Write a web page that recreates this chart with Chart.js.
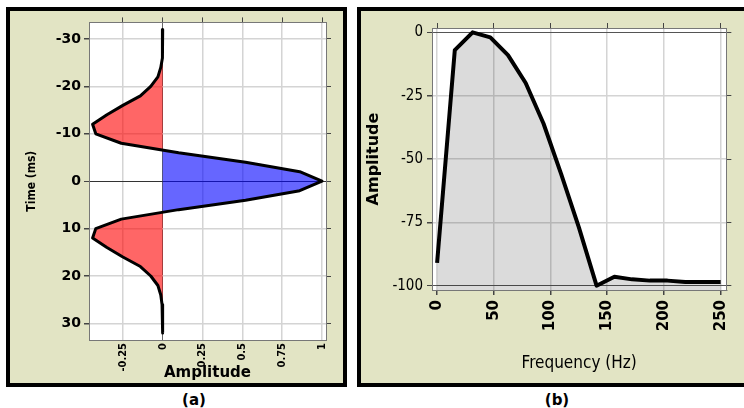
<!DOCTYPE html>
<html>
<head>
<meta charset="utf-8">
<script src="https://cdn.jsdelivr.net/npm/chart.js@4.4.1/dist/chart.umd.min.js"></script>
<style>
  html, body { margin: 0; padding: 0; background: #fff; overflow: hidden; }
  body { width: 744px; height: 408px; position: relative; }
  .panel { position: absolute; border: 4px solid #000; background: #e2e4c4; overflow: hidden; }
  .panel canvas { position: absolute; left: 0; top: 0; }
  .cap { position: absolute; top: 391px; font: bold 15px "DejaVu Sans", sans-serif; color: #000; transform: translateX(-50%); }
</style>
</head>
<body>
<div class="panel" style="left:6px;top:7px;width:333px;height:372px"><canvas id="wave" width="333" height="372"></canvas></div>
<div class="panel" style="left:357px;top:7px;width:400px;height:372px"><canvas id="spec" width="383" height="372"></canvas></div>
<div class="cap" style="left:194px">(a)</div>
<div class="cap" style="left:557px">(b)</div>
<script>
// wavelet, sampled every 2 ms
const waveTimes = [-32, -30, -28, -26, -24, -22, -20, -18, -16, -14, -12, -10, -8, -6, -4, -2, 0,
  2, 4, 6, 8, 10, 12, 14, 16, 18, 20, 22, 24, 26, 28, 30, 32]
const waveAmps = [0, 0, -0.001, -0.004, -0.012, -0.03, -0.075, -0.14, -0.25, -0.35, -0.44, -0.42, -0.26, 0.1, 0.52, 0.86, 1,
  0.86, 0.52, 0.1, -0.26, -0.42, -0.44, -0.35, -0.25, -0.14, -0.075, -0.03, -0.012, -0.004, -0.001, 0, 0]

// lobes (zero crossings near +/-6.55 ms)
const upperLobeTimes = [-32, -30, -28, -26, -24, -22, -20, -18, -16, -14, -12, -10, -8, -6.55]
const upperLobeAmps = [0, 0, -0.001, -0.004, -0.012, -0.03, -0.075, -0.14, -0.25, -0.35, -0.44, -0.42, -0.26, 0]
const mainLobeTimes = [-6.55, -6, -4, -2, 0, 2, 4, 6, 6.55]
const mainLobeAmps = [0, 0.1, 0.52, 0.86, 1, 0.86, 0.52, 0.1, 0]
const lowerLobeTimes = [6.55, 8, 10, 12, 14, 16, 18, 20, 22, 24, 26, 28, 30, 32]
const lowerLobeAmps = [0, -0.26, -0.42, -0.44, -0.35, -0.25, -0.14, -0.075, -0.03, -0.012, -0.004, -0.001, 0, 0]

// amplitude spectrum (dB)
const freqs = [0, 15.6, 31.3, 46.9, 62.5, 78.1, 93.8, 109.4, 125, 140.6, 156.3, 171.9, 187.5, 203.1, 218.8, 234.4, 250]
const spectrumDb = [-91, -7, 0, -2, -9, -20, -36, -56, -77, -100, -96.5, -97.5, -98, -98, -98.5, -98.5, -98.5]

// tick labels
const timeTicks = [-30, -20, -10, 0, 10, 20, 30]
const ampTicks = [-0.25, 0, 0.25, 0.5, 0.75, 1]
const freqTicks = [0, 50, 100, 150, 200, 250]
const dbTicks = [0, -25, -50, -75, -100]

const NARROW = "'Liberation Sans Narrow', 'DejaVu Sans Condensed', sans-serif"
const WIDE = "'DejaVu Sans', sans-serif"
const GRID = "#d4d4d4"
const TICK = "#444"
const FRAME = "#777"

const pts = (xs, ys) => xs.map((x, i) => ({ x, y: ys[i] }))
const setTicks = (arr) => (s) => { s.ticks = arr.map(v => ({ value: v })) }

const plotBg = {
  id: "plotBg",
  beforeDraw(chart) {
    const { ctx, chartArea: a } = chart
    ctx.save()
    ctx.fillStyle = "#fff"
    ctx.fillRect(a.left, a.top, a.width, a.height)
    ctx.restore()
  }
}

// top / right axes only carry the outside tick marks and the frame
const sideAxis = (position, min, max, ticks, size, extra) => Object.assign({
  type: "linear",
  position,
  min, max,
  afterBuildTicks: setTicks(ticks),
  afterFit: (s) => { if (s.isHorizontal()) s.height = size; else s.width = size },
  grid: { drawOnChartArea: false, tickLength: 5, tickColor: TICK, lineWidth: 1 },
  ticks: { display: false },
  border: { color: FRAME, width: 1 },
}, extra || {})

Chart.defaults.color = "#000"

// (a) wavelet
new Chart(document.getElementById("wave"), {
  type: "line",
  data: {
    datasets: [
      {
        data: pts(waveAmps, waveTimes),
        borderColor: "#000",
        borderWidth: 3,
        borderJoinStyle: "round",
        borderCapStyle: "round",
        pointRadius: 0,
        fill: false,
      },
      {
        data: pts(mainLobeAmps, mainLobeTimes),
        borderWidth: 0,
        pointRadius: 0,
        backgroundColor: "rgba(0,0,255,0.6)",
        fill: { value: 0 },
      },
      {
        data: pts(upperLobeAmps, upperLobeTimes),
        borderWidth: 0,
        pointRadius: 0,
        backgroundColor: "rgba(255,0,0,0.6)",
        fill: { value: 0 },
      },
      {
        data: pts(lowerLobeAmps, lowerLobeTimes),
        borderWidth: 0,
        pointRadius: 0,
        backgroundColor: "rgba(255,0,0,0.6)",
        fill: { value: 0 },
      },
    ]
  },
  options: {
    indexAxis: "y",
    responsive: false,
    animation: false,
    devicePixelRatio: 1,
    layout: { padding: 0 },
    plugins: { legend: { display: false }, tooltip: { enabled: false } },
    scales: {
      x: {
        type: "linear",
        position: "bottom",
        min: -0.4625,
        max: 1.025,
        afterBuildTicks: setTicks(ampTicks),
        afterFit: (s) => { s.height = 43 },
        grid: {
          color: (c) => c.tick && c.tick.value === 0 ? "#666" : GRID,
          lineWidth: (c) => c.tick && c.tick.value === 0 ? 1 : 1.5,
          drawTicks: false,
        },
        border: { color: FRAME, width: 1 },
        ticks: {
          minRotation: 90,
          maxRotation: 90,
          padding: 3,
          font: { family: NARROW, size: 11, weight: "bold" },
          callback: (v) => String(v),
        },
        title: {
          display: true,
          text: "Amplitude",
          font: { family: WIDE, size: 15, weight: "bold" },
          padding: { top: 0, bottom: 1 },
        },
      },
      y: {
        type: "linear",
        position: "left",
        min: -33.5,
        max: 33.5,
        reverse: true,
        afterBuildTicks: setTicks(timeTicks),
        afterFit: (s) => { s.width = 79 },
        grid: {
          color: (c) => c.tick && c.tick.value === 0 ? "#333" : GRID,
          lineWidth: (c) => c.tick && c.tick.value === 0 ? 1 : 1.5,
          tickLength: 5,
          tickColor: TICK,
        },
        border: { color: FRAME, width: 1 },
        ticks: {
          padding: 3,
          font: { family: WIDE, size: 14, weight: "bold" },
          callback: (v) => String(v),
        },
        title: {
          display: true,
          text: "Time (ms)",
          font: { family: NARROW, size: 12, weight: "bold" },
          padding: { top: 15, bottom: 0 },
        },
      },
      x2: sideAxis("top", -0.4625, 1.025, ampTicks, 9),
      y2: sideAxis("right", -33.5, 33.5, timeTicks, 17, { reverse: true }),
    }
  },
  plugins: [plotBg]
})

// (b) spectrum
new Chart(document.getElementById("spec"), {
  type: "line",
  data: {
    datasets: [{
      data: pts(freqs, spectrumDb),
      borderColor: "#000",
      borderWidth: 4,
      borderJoinStyle: "round",
      pointRadius: 0,
      backgroundColor: "rgba(0,0,0,0.14)",
      fill: "start",
    }]
  },
  options: {
    responsive: false,
    animation: false,
    devicePixelRatio: 1,
    layout: { padding: 0 },
    plugins: { legend: { display: false }, tooltip: { enabled: false } },
    scales: {
      x: {
        type: "linear",
        position: "bottom",
        min: -4.5,
        max: 255,
        afterBuildTicks: setTicks(freqTicks),
        afterFit: (s) => { s.height = 93 },
        grid: { color: GRID, lineWidth: 1.5, tickLength: 5, tickColor: TICK },
        border: { color: FRAME, width: 1 },
        ticks: {
          minRotation: 90,
          maxRotation: 90,
          padding: 5,
          font: { family: WIDE, size: 15, weight: "bold" },
          callback: (v) => String(v),
        },
        title: {
          display: true,
          text: "Frequency (Hz)",
          font: { family: NARROW, size: 17 },
          padding: { top: 0, bottom: 9 },
        },
      },
      y: {
        type: "linear",
        position: "left",
        min: -101.7,
        max: 1.7,
        afterBuildTicks: setTicks(dbTicks),
        afterFit: (s) => { s.width = 71 },
        grid: {
          color: (c) => c.tick && (c.tick.value === 0 || c.tick.value === -100) ? "#555" : GRID,
          lineWidth: (c) => c.tick && (c.tick.value === 0 || c.tick.value === -100) ? 1 : 1.5,
          tickLength: 5,
          tickColor: TICK,
        },
        border: { color: FRAME, width: 1 },
        ticks: {
          padding: 4,
          font: { family: NARROW, size: 15 },
          callback: (v) => String(v),
        },
        title: {
          display: true,
          text: "Amplitude",
          font: { family: WIDE, size: 16, weight: "bold" },
          padding: { top: 3, bottom: 0 },
        },
      },
      x2: sideAxis("top", -4.5, 255, freqTicks, 17),
      y2: sideAxis("right", -101.7, 1.7, dbTicks, 9),
    }
  },
  plugins: [plotBg]
})
</script>
</body>
</html>
